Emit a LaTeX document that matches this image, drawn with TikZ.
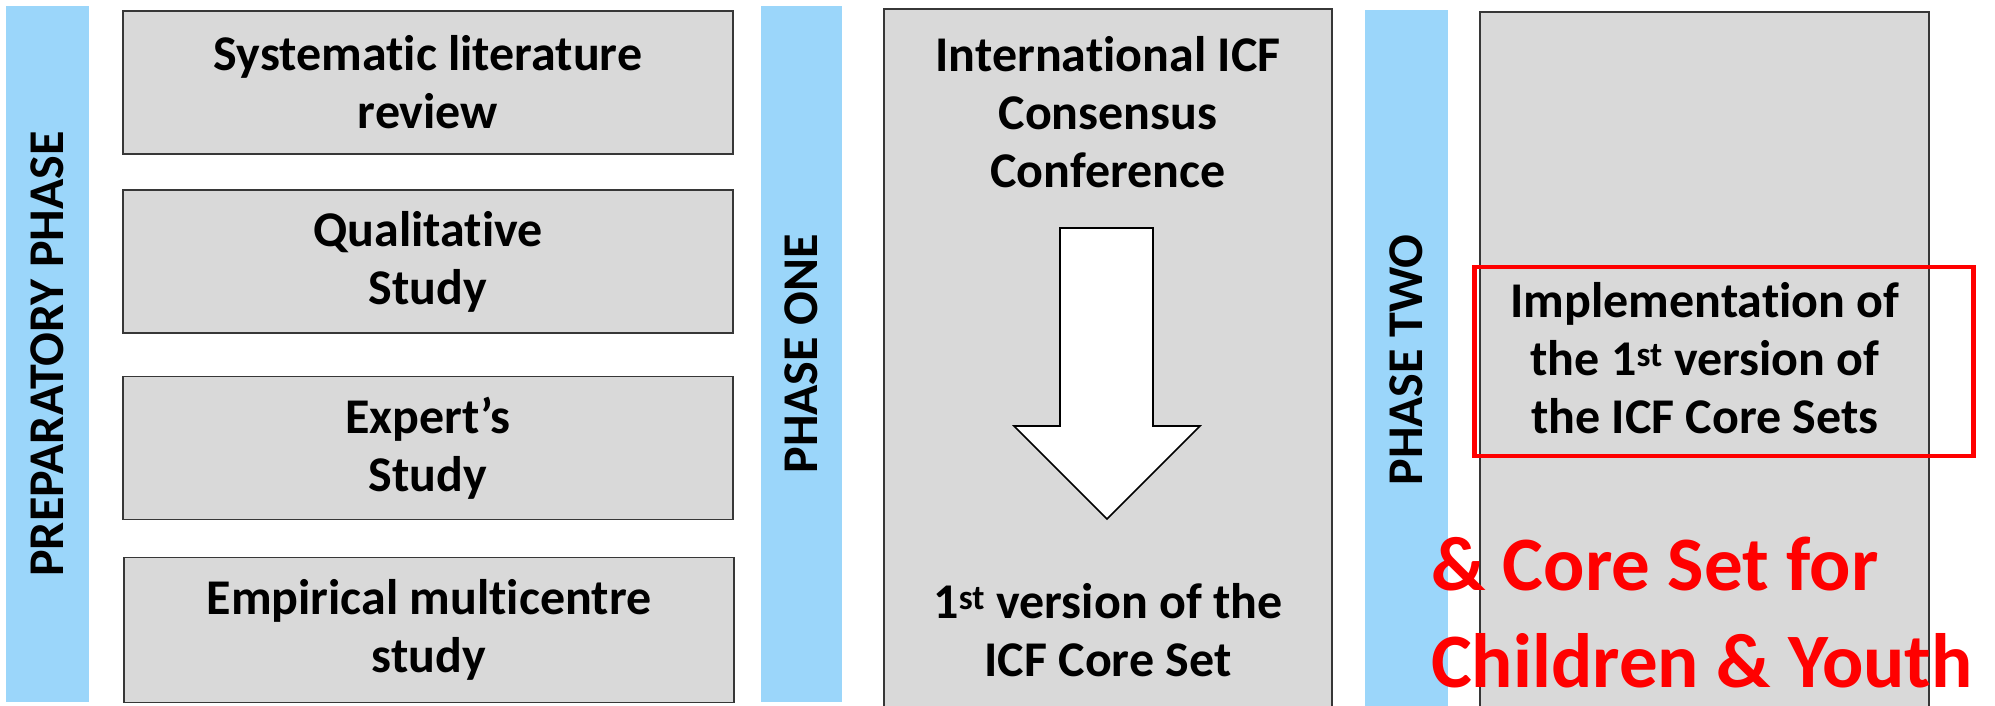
\documentclass[tikz,border=0pt]{standalone}
\usepackage{fontspec}
\setmainfont{Carlito}[Ligatures=NoCommon]
\definecolor{barblue}{RGB}{155,214,250}
\definecolor{boxgrey}{RGB}{217,217,217}
\definecolor{edgegrey}{RGB}{55,55,55}
\begin{document}
\begin{tikzpicture}[x=1pt,y=-1pt,
  bar/.style={fill=barblue, draw=none, inner sep=0, rotate=90,
    font=\bfseries\fontsize{50}{58}\selectfont},
  greybox/.style={fill=boxgrey, draw=edgegrey, line width=1.6pt, inner sep=0,
    align=center, font=\bfseries\fontsize{50}{58}\selectfont},
  txt/.style={inner sep=0, align=center, font=\bfseries\fontsize{50}{58}\selectfont},
  redtxt/.style={inner sep=0, text=red, anchor=base west,
    font=\bfseries\fontsize{77}{92}\selectfont},
  blockarrow/.style={fill=white, draw=black, line width=1.6pt, line join=miter}]
\useasboundingbox (0,0) rectangle (1995,706);
\clip (0,0) rectangle (1995,706);
\fill[white] (0,0) rectangle (1995,706);

% preparatory phase
\node[bar, minimum width=696, minimum height=83] (pbar) at (47.5,354) {PREPARATORY PHASE};
\node[greybox, minimum width=610, minimum height=143] (b1) at (428,82.5) {Systematic literature\\review};
\node[greybox, minimum width=610, minimum height=143] (b2) at (428,261.5) {Qualitative\\Study};
\node[greybox, minimum width=610, minimum height=143] (b3) at (428,448) {Expert’s\\Study};
\node[greybox, minimum width=610, minimum height=145] (b4) at (429,630) {Empirical multicentre\\study};

% phase one
\node[bar, minimum width=696, minimum height=81] (obar) at (801.5,354) {PHASE ONE};
\node[greybox, minimum width=448, minimum height=706] (obox) at (1108,362) {};
\node[txt] (otop) at (1108,112) {International ICF\\Consensus\\Conference};
\node[txt] (obot) at (1108,630) {1\textsuperscript{st} version of the\\ICF Core Set};
\draw[blockarrow] (1060,228) -- (1153,228) -- (1153,426) -- (1200,426) -- (1107,519)
  -- (1014,426) -- (1060,426) -- cycle;

% phase two
\node[bar, minimum width=700, minimum height=83] (tbar) at (1406.5,360) {PHASE TWO};
\node[greybox, minimum width=449, minimum height=706] (tbox) at (1704.5,365) {};
\node[txt] (impl) at (1705,358) {Implementation of\\the 1\textsuperscript{st} version of\\the ICF Core Sets};
\node[draw=red, line width=4.5pt, inner sep=0, minimum width=499, minimum height=189] (redbox) at (1724,361.5) {};
\node[redtxt] (red1) at (1431,590) {\& Core Set for};
\node[redtxt] (red2) at (1431,687) {Children \& Youth};
\end{tikzpicture}
\end{document}
